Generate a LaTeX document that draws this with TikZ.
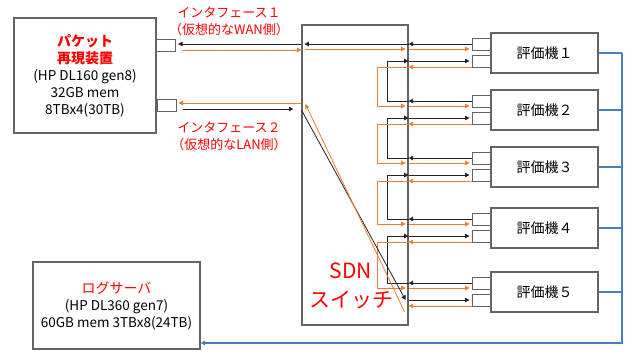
\documentclass[tikz,border=0pt]{standalone}
\usepackage{fontspec}
\setmainfont{Noto Sans CJK JP}
\usetikzlibrary{arrows.meta}
\definecolor{gris}{RGB}{100,100,100}
\definecolor{negro}{RGB}{35,35,35}
\definecolor{naranja}{RGB}{237,125,49}
\definecolor{azul}{RGB}{74,126,193}
\definecolor{rojo}{RGB}{255,0,0}
\tikzset{
  caja/.style={draw=gris, line width=1.2pt, fill=white, inner sep=0pt, align=center},
  puerto/.style={draw=gris, line width=1pt, minimum width=19pt, minimum height=12pt, inner sep=0pt},
  neg/.style={draw=negro, line width=0.8pt, -{Triangle[length=4.5pt,width=4.5pt]}},
  nar/.style={draw=naranja, line width=0.8pt, -{Triangle[length=4.5pt,width=4.5pt]}},
  enlace/.style={draw=azul, line width=1.2pt},
}
\newcommand{\rotulo}[1]{{\fontsize{14}{17}\selectfont\color{rojo}#1}}
\begin{document}
\begin{tikzpicture}[x=1pt,y=-1pt]
    \useasboundingbox (0,0) rectangle (626,352);

    % Equipo de reproducción de paquetes con sus dos interfaces
    \node[caja, minimum width=142pt, minimum height=115pt, font=\fontsize{13.5}{17}\selectfont] (pkt) at (85,75.5)
        {\rotulo{\bfseries パケット}\\\rotulo{\bfseries 再現装置}\\(HP DL160 gen8)\\32GB mem\\8TBx4(30TB)};
    \node[puerto] (pkt1) at (166,46) {};
    \node[puerto] (pkt2) at (166.5,105.5) {};
    \node[text=rojo, font=\fontsize{13}{17}\selectfont, align=center] (if1) at (229,21.5) {インタフェース１\\（仮想的なWAN側）};
    \node[text=rojo, font=\fontsize{13}{17}\selectfont, align=center] (if2) at (229,136) {インタフェース２\\（仮想的なLAN側）};

    % Servidor de logs
    \node[caja, minimum width=167pt, minimum height=87pt, font=\fontsize{13.5}{17}\selectfont] (log) at (116.5,305.5)
        {\rotulo{ログサーバ}\\(HP DL360 gen7)\\60GB mem 3TBx8(24TB)};

    % Conmutador SDN
    \node[caja, minimum width=106pt, minimum height=300pt] (sw) at (355,175) {};
    \node[text=rojo, font=\fontsize{21}{29}\selectfont, align=center] (swlbl) at (351,285.5) {SDN\\スイッチ};

    \coordinate (bus) at (622,343);

    % Evaluadores, cada uno con dos puertos
    \foreach \i/\t/\n in {1/33/１,2/90/２,3/147/３,4/208/４,5/272/５} {
        \node[caja, minimum width=107pt, minimum height=40pt, font=\fontsize{14}{16}\selectfont] (ev\i) at (544.5,\t+20) {評価機\n};
        \node[puerto] (pa\i) at (481.5,\t+12) {};
        \node[puerto] (pb\i) at (481.5,\t+28.5) {};
        \draw[neg] (pa\i.west |- 0,\t+11) -- (sw.east |- 0,\t+11);
        \draw[nar] (sw.east |- 0,\t+16) -- ([xshift=-2pt]pa\i.west |- 0,\t+16);
        \draw[neg] (sw.east |- 0,\t+28) -- ([xshift=-2pt]pb\i.west |- 0,\t+28);
        \draw[nar] (pb\i.west |- 0,\t+34) -- (sw.east |- 0,\t+34);
        \draw[enlace] (ev\i.east) -- (ev\i.east -| bus);
    }

    % Bucles dentro del conmutador
    \foreach \t/\tn in {33/90,90/147,147/208,208/272} {
        \draw[neg] (sw.east |- 0,\tn+11) -| (387,\t+28) -- (sw.east |- 0,\t+28);
        \draw[nar, shorten >=3pt] (sw.east |- 0,\t+34) -| (377,\tn+16) -- (sw.east |- 0,\tn+16);
    }

    % Interfaz 1
    \draw[neg] (sw.east |- 0,44) -- ([xshift=3pt]sw.west |- 0,44);
    \draw[neg] (sw.west |- 0,44) -- ([xshift=2pt]pkt1.east |- 0,44);
    \draw[nar] ([xshift=6pt]pkt1.east |- 0,50) -- (sw.west |- 0,50);
    \draw[nar] ([xshift=4pt]sw.west |- 0,49) -- ([xshift=-3pt]sw.east |- 0,49);

    % Interfaz 2
    \draw[nar] (sw.west |- 0,103) -- ([xshift=2pt]pkt2.east |- 0,103);
    \draw[neg] ([xshift=6pt]pkt2.east |- 0,109) -- ([xshift=-8pt]sw.west |- 0,109);
    \draw[neg] (sw.west |- 0,110) -- ([xshift=-3pt]sw.east |- 0,300);
    \draw[nar] ([xshift=-4pt]sw.east |- 0,312) -- ([xshift=4pt]sw.west |- 0,104);

    % Enlace al servidor de logs
    \draw[enlace, -{Triangle[length=4.5pt,width=4.5pt]}] (ev1.east -| bus) -- (bus) -- (log.east |- bus);
\end{tikzpicture}
\end{document}
